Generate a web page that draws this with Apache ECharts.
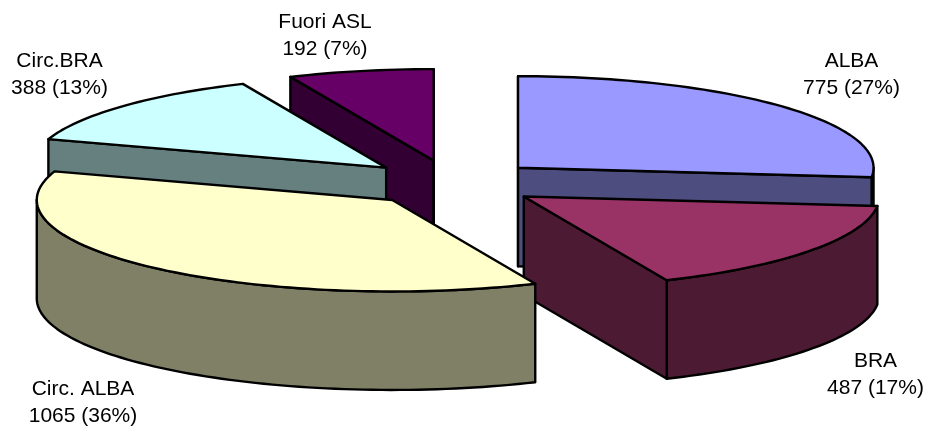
<!DOCTYPE html>
<html>
<head>
<meta charset="utf-8">
<style>html,body{margin:0;padding:0;background:#fff}#c{width:928px;height:426px}</style>
<script src="https://cdn.jsdelivr.net/npm/echarts@6/dist/echarts.min.js"></script>
</head>
<body>
<div id="c"></div>
<script>
var categories = ['ALBA', 'BRA', 'Circ. ALBA', 'Circ.BRA', 'Fuori ASL'];
var values = [775, 487, 1065, 388, 192];
var percents = [27, 17, 36, 13, 7];

var topColors = ['#9999FF', '#993366', '#FFFFCC', '#CCFFFF', '#660066'];
var sideColors = ['#4D4D80', '#4D1A33', '#808066', '#668080', '#330033'];
var drawOrder = [4, 3, 0, 1, 2];
var labelX = [851.5, 875.5, 83, 59.5, 325];
var labelY = [74.5, 374.5, 402.5, 74.5, 36];

var CX = 452, CY = 183, RX = 355.5, RY = 91.5, DEPTH = 98.5, EXPLODE = 0.25;
var total = values.reduce(function (a, b) { return a + b; }, 0);
var starts = [], acc = 0;
values.forEach(function (v) { starts.push(acc / total * 360); acc += v; });

function rad(d) { return d * Math.PI / 180; }
function arcPoints(ax, ay, a, b, dy) {
  var pts = [], n = Math.max(2, Math.ceil((b - a) / 1.5));
  for (var k = 0; k <= n; k++) {
    var t = rad(a + (b - a) * k / n);
    pts.push([ax + RX * Math.sin(t), ay - RY * Math.cos(t) + dy]);
  }
  return pts;
}
function renderItem(params, api) {
  var i = api.value(0);
  var a = starts[i], b = a + values[i] / total * 360, mid = rad((a + b) / 2);
  var ax = CX + EXPLODE * RX * Math.sin(mid), ay = CY - EXPLODE * RY * Math.cos(mid);
  var kids = [];
  function poly(points, fill) {
    kids.push({ type: 'polygon', shape: { points: points },
      style: { fill: fill, stroke: '#000', lineWidth: 2.4, lineJoin: 'round' } });
  }
  // outer wall: only the part of the rim that faces the viewer
  var fa = Math.max(a, 90), fb = Math.min(b, 270);
  if (fb > fa) {
    poly(arcPoints(ax, ay, fa, fb, 0).concat(arcPoints(ax, ay, fa, fb, DEPTH).reverse()), sideColors[i]);
  }
  // cut faces from apex to rim
  function cut(angle) {
    var t = rad(angle), px = ax + RX * Math.sin(t), py = ay - RY * Math.cos(t);
    poly([[ax, ay], [px, py], [px, py + DEPTH], [ax, ay + DEPTH]], sideColors[i]);
  }
  if (Math.sin(rad(a)) < 1e-6) cut(a);
  if (Math.sin(rad(b)) > -1e-6) cut(b);
  // top face
  poly([[ax, ay]].concat(arcPoints(ax, ay, a, b, 0)), topColors[i]);
  return { type: 'group', children: kids };
}
function renderLabel(params, api) {
  var i = api.value(0);
  return { type: 'text', style: {
    x: labelX[i], y: labelY[i], align: 'center', verticalAlign: 'middle',
    text: categories[i] + '\n' + values[i] + ' (' + percents[i] + '%)',
    font: '21px "Liberation Sans", Arial, sans-serif', lineHeight: 27, fill: '#000'
  } };
}
var chart = echarts.init(document.getElementById('c'), null, { renderer: 'canvas' });
chart.setOption({
  animation: false,
  backgroundColor: '#fff',
  series: [
    { type: 'custom', coordinateSystem: 'none', silent: true, renderItem: renderItem,
      data: drawOrder.map(function (i) { return [i]; }) },
    { type: 'custom', coordinateSystem: 'none', silent: true, z: 5, renderItem: renderLabel,
      data: categories.map(function (c, i) { return [i]; }) }
  ]
});
</script>
</body>
</html>
